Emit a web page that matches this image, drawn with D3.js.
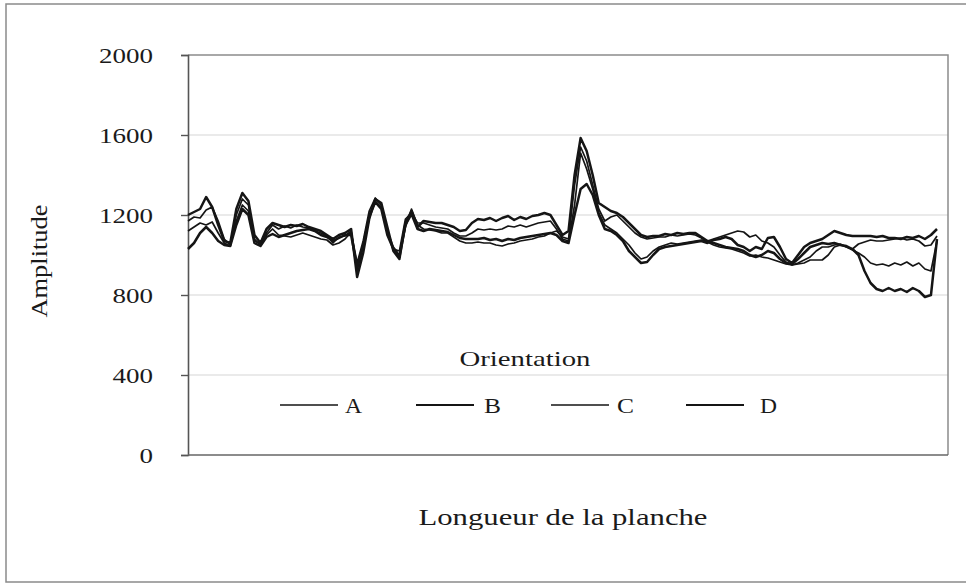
<!DOCTYPE html>
<html>
<head>
<meta charset="utf-8">
<script src="https://cdn.jsdelivr.net/npm/d3@7/dist/d3.min.js"></script>
<style>
  html, body { margin: 0; padding: 0; background: #fff; }
  svg { display: block; }
  text { font-family: "Liberation Serif", "Times New Roman", serif; fill: #1a1a1a; }
</style>
</head>
<body>
<svg id="chart" width="966" height="584"></svg>
<script>
// Amplitude along the board length, one series per orientation
const seriesNames = ["A", "B", "C", "D"];

const seriesA = [1120,1140,1160,1150,1165,1110,1060,1045,1170,1250,1220,1070,1055,1100,1130,1100,1095,1090,1100,1110,
  1100,1090,1080,1075,1050,1060,1080,1115,960,1070,1220,1285,1250,1110,1030,1020,1180,1210,1160,1160,
  1150,1140,1135,1130,1110,1095,1095,1110,1130,1125,1130,1125,1130,1145,1140,1150,1140,1150,1160,1165,
  1170,1130,1080,1070,1250,1510,1430,1330,1210,1150,1130,1110,1080,1050,1010,980,990,1020,1040,1050,
  1060,1055,1060,1065,1070,1075,1070,1080,1090,1100,1110,1120,1115,1090,1100,1070,1060,1040,1000,965,
  950,955,960,975,975,975,1000,1040,1050,1040,1025,1010,990,960,950,955,945,960,950,965,
  945,960,930,920,1070];

const seriesB = [1200,1215,1230,1290,1240,1150,1070,1060,1230,1310,1270,1100,1060,1130,1160,1150,1140,1150,1145,1155,
  1140,1130,1120,1100,1080,1100,1110,1130,890,1010,1180,1280,1260,1140,1020,980,1160,1220,1140,1170,
  1165,1160,1160,1150,1140,1120,1125,1160,1180,1175,1185,1170,1185,1195,1175,1190,1180,1195,1200,1210,
  1200,1150,1100,1120,1400,1585,1520,1400,1260,1240,1220,1210,1190,1160,1130,1100,1090,1095,1095,1105,
  1100,1110,1105,1110,1110,1090,1070,1060,1050,1040,1035,1030,1020,1000,990,1000,1020,1010,980,960,
  955,980,1010,1040,1050,1060,1055,1060,1050,1045,1030,1000,920,860,830,820,835,820,830,815,
  835,820,790,800,1080];

const seriesC = [1170,1190,1185,1225,1240,1170,1080,1050,1200,1280,1250,1080,1050,1110,1150,1130,1145,1135,1150,1140,
  1135,1120,1110,1095,1060,1090,1095,1120,920,1040,1200,1270,1240,1120,1040,1000,1140,1230,1150,1130,
  1125,1120,1110,1110,1090,1070,1060,1060,1065,1060,1060,1050,1045,1055,1060,1070,1075,1080,1090,1095,
  1110,1120,1090,1080,1350,1540,1470,1350,1230,1170,1190,1200,1170,1140,1110,1090,1080,1085,1090,1090,
  1100,1095,1100,1105,1100,1085,1065,1050,1040,1035,1030,1020,1010,995,1000,990,985,975,965,955,
  950,960,975,990,1020,1040,1040,1050,1055,1040,1030,1055,1065,1075,1070,1070,1075,1080,1085,1075,
  1080,1070,1045,1050,1095];

const seriesD = [1030,1060,1110,1140,1110,1070,1050,1045,1150,1230,1200,1060,1045,1090,1105,1090,1100,1110,1120,1125,
  1130,1120,1100,1090,1070,1085,1100,1100,940,1050,1190,1265,1230,1100,1030,990,1150,1205,1130,1120,
  1130,1125,1120,1115,1100,1085,1080,1080,1080,1085,1075,1080,1070,1080,1075,1085,1090,1095,1100,1105,
  1110,1100,1070,1060,1200,1330,1355,1300,1200,1130,1120,1100,1070,1020,990,960,965,1000,1030,1040,
  1045,1050,1055,1060,1065,1070,1060,1075,1080,1090,1080,1050,1040,1020,1040,1030,1085,1090,1040,980,
  960,1000,1040,1060,1070,1080,1100,1120,1110,1100,1095,1095,1095,1095,1090,1095,1085,1085,1080,1090,
  1085,1095,1080,1100,1130];

const yTicks = [0, 400, 800, 1200, 1600, 2000];
const xTitle = "Longueur de la planche";
const yTitle = "Amplitude";
const legendTitle = "Orientation";

const allSeries = [seriesA, seriesB, seriesC, seriesD];
const strokeWidths = [1.7, 2.5, 1.7, 2.5];

const svg = d3.select("#chart");

// outer chart frame
svg.append("rect")
  .attr("x", 6).attr("y", 4).attr("width", 980).attr("height", 578)
  .attr("fill", "none").attr("stroke", "#8a8a8a").attr("stroke-width", 1.5);

const plot = { left: 188, right: 948, top: 55, bottom: 455 };

const x = d3.scaleLinear()
  .domain([0, seriesA.length - 1])
  .range([plot.left, 937]);

const y = d3.scaleLinear()
  .domain([0, 2000])
  .range([plot.bottom, plot.top]);

// horizontal gridlines
svg.append("g")
  .selectAll("line")
  .data(yTicks.filter(t => t > 0 && t < 2000))
  .join("line")
  .attr("x1", plot.left).attr("x2", plot.right)
  .attr("y1", d => y(d)).attr("y2", d => y(d))
  .attr("stroke", "#d6d6d6").attr("stroke-width", 1.2);

// plot area frame (top and right)
svg.append("path")
  .attr("d", `M${plot.left},${plot.top}H${plot.right}V${plot.bottom}`)
  .attr("fill", "none").attr("stroke", "#8c8c8c").attr("stroke-width", 1.5);

// y axis
const yAxis = d3.axisLeft(y)
  .tickValues(yTicks)
  .tickSize(7)
  .tickPadding(28)
  .tickFormat(d3.format("d"));

const yG = svg.append("g")
  .attr("transform", `translate(${plot.left},0)`)
  .call(yAxis);
yG.select(".domain").attr("stroke", "#555").attr("stroke-width", 1.6);
yG.selectAll(".tick line").attr("stroke", "#555").attr("stroke-width", 1.4);
yG.selectAll(".tick text")
  .attr("font-size", 22)
  .attr("font-family", "Liberation Serif, serif")
  .attr("fill", "#1a1a1a")
  .attr("dy", "0.34em")
  .attr("textLength", d => String(d).length * 13.5)
  .attr("lengthAdjust", "spacingAndGlyphs");

// x axis line
svg.append("line")
  .attr("x1", plot.left).attr("x2", plot.right)
  .attr("y1", plot.bottom).attr("y2", plot.bottom)
  .attr("stroke", "#666").attr("stroke-width", 1.6);

// series lines
const line = d3.line()
  .x((d, i) => x(i))
  .y(d => y(d));

svg.append("g")
  .selectAll("path")
  .data(allSeries)
  .join("path")
  .attr("d", line)
  .attr("fill", "none")
  .attr("stroke", "#151515")
  .attr("stroke-width", (d, i) => strokeWidths[i])
  .attr("stroke-linejoin", "round");

// axis titles
svg.append("text")
  .attr("transform", "translate(47,261) rotate(-90)")
  .attr("text-anchor", "middle")
  .attr("font-size", 23)
  .attr("textLength", 113)
  .attr("lengthAdjust", "spacingAndGlyphs")
  .text(yTitle);

svg.append("text")
  .attr("x", 563).attr("y", 525)
  .attr("text-anchor", "middle")
  .attr("font-size", 23)
  .attr("textLength", 289)
  .attr("lengthAdjust", "spacingAndGlyphs")
  .text(xTitle);

// legend
svg.append("text")
  .attr("x", 525).attr("y", 366)
  .attr("text-anchor", "middle")
  .attr("font-size", 22)
  .attr("textLength", 131)
  .attr("lengthAdjust", "spacingAndGlyphs")
  .text(legendTitle);

const legendX = [280, 416, 551, 686];
const legend = svg.append("g")
  .selectAll("g")
  .data(seriesNames)
  .join("g")
  .attr("transform", (d, i) => `translate(${legendX[i]},405)`);

legend.append("line")
  .attr("x1", 0).attr("x2", 58)
  .attr("stroke", "#151515")
  .attr("stroke-width", (d, i) => strokeWidths[i] - 0.3);

legend.append("text")
  .attr("x", (d, i) => [65, 68, 66, 74][i])
  .attr("y", 8)
  .attr("font-size", 22)
  .attr("textLength", 17)
  .attr("lengthAdjust", "spacingAndGlyphs")
  .text(d => d);
</script>
</body>
</html>
